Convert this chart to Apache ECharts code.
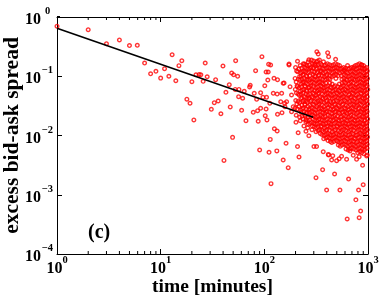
<!DOCTYPE html>
<html><head><meta charset="utf-8">
<script src="https://cdn.jsdelivr.net/npm/echarts@6/dist/echarts.min.js"></script>
<style>html,body{margin:0;padding:0;background:#fff}#c{width:382px;height:300px}</style>
</head><body><div id="c"></div>
<script>
// [time (minutes), excess bid-ask spread]
const sparsePoints = [
[1,0.70],[2.0,0.61],[3.0,0.354],[4.0,0.41],[5.0,0.33],[5.95,0.333],[7.0,0.167],[8.0,0.110],[9.0,0.121],[10,0.093],[10.9,0.134],[12.0,0.10],[12.9,0.231],[14.0,0.084],[15.0,0.151],[16.0,0.183],[17.9,0.041],[19.2,0.035],[20.0,0.081],[20.9,0.0183],[21.9,0.106],[23.5,0.107],[24.4,0.106],
[26.9,0.167],[39.9,0.149],[52.9,0.183],[94.8,0.214],[110,0.159],[115,0.155],[173,0.155],
[28.1,0.098],[25.7,0.082],[33.9,0.0875],[48.4,0.1135],[50.6,0.106],[55.3,0.0998],[82.4,0.124],[104,0.118],[109,0.118],[45.9,0.072],[42.6,0.0536],[52.4,0.060],[56.9,0.060],[64,0.0557],[73.1,0.0703],[72.1,0.0659],[101,0.069],[108,0.0865],[124,0.0923],[134,0.0875],[155,0.0769],
[32.9,0.0358],[35.9,0.0382],[30.8,0.0277],[46.9,0.0303],[56.5,0.0452],[61.8,0.0425],[79.9,0.0516],[92.1,0.0528],[84.3,0.0408],[96.9,0.0441],[105,0.0441],[122,0.0516],[133,0.0501],[144,0.0372],[157,0.0349],[113,0.0349],
[60.4,0.0266],[78.2,0.0246],[86.1,0.0262],[92.1,0.0288],[104,0.028],[38.1,0.0233],[66.5,0.0178],[87.3,0.0174],[102,0.0216],[106,0.0183],[134,0.0228],[148,0.0243],[125,0.013],
[49.4,0.0093],[114,0.0086],[133,0.0119],[162,0.0074],[209,0.0065],[212,0.0111],[252,0.0118],[269,0.0099],[301,0.0065],[319,0.0065],
[40.8,0.0038],[90.1,0.0057],[111,0.0052],[132,0.0055],[116,0.00154],[152,0.00386],[170,0.00286],[216,0.00434],[315,0.00194],[365,0.00265],[399,0.0012],[370,0.00533],[417,0.00469],[446,0.00386],[498,0.00376],[527,0.00406],[556,0.00446],[476,0.00224],[536,0.0012],[630,0.00039],[650,0.00184],[622,0.00396],[720,0.00463],[776,0.00396],[822,0.00439],[887,0.00314],[811,0.0012],[764,0.00082],[849,0.00053],[822,0.00041],[899,0.00148],[970,0.0045],
[202,0.0167],[252,0.0171],[414,0.0048],[457,0.00456],[670,0.0055],[982,0.0047],
[321,0.26],[331,0.238],[408,0.25],[417,0.214],[209,0.179],[243,0.161],[269,0.19],[308,0.163],[487,0.193],[589,0.129],[731,0.145],[867,0.155],[173,0.161],
[152,0.076],[147,0.0515],[177,0.0666],[183,0.0483],[164,0.0372],[158,0.0306],[190,0.0306],[183,0.0252]
];
const densePoints = [
[200,0.141],[205,0.123],[198,0.092],[203,0.080],[207,0.069],[199,0.060],[204,0.052],[201,0.039],[206,0.034],[198,0.029],[203,0.022],
[222,0.152],[216,0.132],[224,0.115],[219,0.099],[221,0.086],[226,0.074],[217,0.064],[223,0.056],[218,0.048],[225,0.042],[220,0.036],[216,0.031],[224,0.027],[219,0.0205],[222,0.0178],
[238,0.163],[245,0.141],[240,0.123],[236,0.106],[243,0.092],[239,0.080],[246,0.069],[241,0.060],[237,0.052],[244,0.045],[240,0.039],[247,0.034],[238,0.029],[242,0.0255],[245,0.022],[236,0.019],[241,0.0145],
[265,0.175],[259,0.152],[268,0.132],[262,0.115],[257,0.099],[266,0.086],[261,0.074],[269,0.064],[258,0.056],[264,0.048],[267,0.042],[260,0.036],[263,0.031],[268,0.027],[259,0.0237],[265,0.0205],[261,0.0178],[266,0.0155],[262,0.0135],
[285,0.188],[291,0.163],[283,0.141],[289,0.123],[294,0.106],[286,0.092],[290,0.080],[282,0.069],[288,0.060],[293,0.052],[287,0.045],[284,0.039],[292,0.034],[289,0.029],[285,0.0255],[290,0.022],[294,0.019],[286,0.0166],[291,0.0145],[288,0.0125],
[318,0.175],[312,0.152],[316,0.132],[321,0.115],[310,0.099],[314,0.086],[319,0.074],[313,0.064],[322,0.056],[315,0.048],[311,0.042],[317,0.036],[320,0.031],[314,0.027],[309,0.0237],[316,0.0205],[321,0.0178],[312,0.0155],[318,0.0135],[315,0.0116],
[340,0.188],[347,0.163],[342,0.141],[349,0.123],[338,0.106],[345,0.092],[341,0.080],[350,0.069],[343,0.060],[337,0.052],[346,0.045],[344,0.039],[339,0.034],[348,0.029],[342,0.0255],[347,0.022],[340,0.019],[345,0.0166],[350,0.0145],[341,0.0125],[346,0.0108],
[372,0.175],[380,0.152],[375,0.132],[369,0.115],[378,0.099],[383,0.086],[371,0.074],[377,0.064],[374,0.056],[381,0.048],[368,0.042],[376,0.036],[379,0.031],[373,0.027],[382,0.0237],[370,0.0205],[377,0.0178],[375,0.0155],[380,0.0135],[372,0.0116],[378,0.0101],[374,0.0088],
[406,0.163],[414,0.141],[409,0.123],[403,0.106],[416,0.092],[411,0.069],[405,0.060],[413,0.052],[408,0.045],[402,0.039],[415,0.034],[410,0.029],[404,0.0255],[412,0.022],[407,0.019],[417,0.0166],[409,0.0145],[403,0.0125],[414,0.0108],[408,0.0094],[411,0.0082],
[445,0.152],[453,0.132],[448,0.115],[450,0.099],[451,0.074],[444,0.064],[456,0.056],[447,0.048],[452,0.042],[443,0.036],[450,0.031],[455,0.027],[446,0.0237],[449,0.0205],[454,0.0178],[442,0.0155],[448,0.0135],[453,0.0116],[445,0.0101],[451,0.0088],[447,0.0076],
[486,0.163],[495,0.141],[489,0.123],[493,0.106],[490,0.092],[484,0.069],[491,0.060],[497,0.052],[487,0.045],[492,0.039],[485,0.034],[496,0.029],[490,0.0255],[483,0.022],[494,0.019],[488,0.0166],[498,0.0145],[486,0.0125],[492,0.0108],[489,0.0094],[495,0.0082],
[531,0.152],[540,0.132],[534,0.115],[529,0.074],[543,0.064],[537,0.056],[532,0.048],[541,0.042],[535,0.036],[528,0.031],[539,0.027],[533,0.0237],[544,0.0205],[530,0.0178],[538,0.0155],[536,0.0135],[542,0.0116],[529,0.0101],[537,0.0088],[533,0.0076],[540,0.0066],
[582,0.141],[591,0.123],[585,0.106],[587,0.092],[589,0.080],[580,0.069],[594,0.060],[587,0.052],[583,0.045],[592,0.039],[578,0.034],[588,0.029],[595,0.0255],[584,0.022],[590,0.019],[581,0.0166],[593,0.0145],[586,0.0125],[579,0.0108],[592,0.0094],[585,0.0082],[589,0.0071],
[635,0.152],[646,0.132],[638,0.115],[643,0.099],[632,0.086],[648,0.074],[641,0.064],[636,0.056],[650,0.048],[639,0.042],[634,0.036],[645,0.031],[642,0.027],[630,0.0237],[647,0.0205],[637,0.0178],[644,0.0155],[633,0.0135],[649,0.0116],[640,0.0101],[636,0.0088],[646,0.0076],[638,0.0066],[643,0.0057],
[694,0.141],[706,0.123],[698,0.106],[703,0.092],[690,0.080],[709,0.069],[697,0.060],[704,0.052],[692,0.045],[701,0.039],[707,0.034],[695,0.029],[700,0.0255],[688,0.022],[705,0.019],[696,0.0166],[702,0.0145],[691,0.0125],[708,0.0108],[699,0.0094],[693,0.0082],[704,0.0071],[697,0.0061],
[758,0.152],[772,0.132],[762,0.115],[768,0.099],[755,0.086],[775,0.074],[760,0.064],[770,0.056],[764,0.048],[757,0.042],[773,0.036],[766,0.031],[759,0.027],[771,0.0237],[763,0.0205],[756,0.0178],[769,0.0155],[761,0.0135],[774,0.0116],[767,0.0101],[758,0.0088],[770,0.0076],[762,0.0066],[766,0.0057],
[828,0.163],[842,0.141],[833,0.123],[839,0.106],[825,0.092],[845,0.080],[831,0.069],[837,0.060],[848,0.052],[829,0.045],[840,0.039],[834,0.034],[826,0.029],[844,0.0255],[836,0.022],[832,0.019],[841,0.0166],[827,0.0145],[846,0.0125],[838,0.0108],[830,0.0094],[843,0.0082],[835,0.0071],[839,0.0061],[832,0.0053],
[905,0.152],[921,0.132],[910,0.115],[917,0.099],[902,0.086],[925,0.074],[908,0.064],[915,0.056],[919,0.048],[904,0.042],[912,0.036],[923,0.031],[907,0.027],[916,0.0237],[911,0.0205],[920,0.0178],[903,0.0155],[914,0.0135],[924,0.0116],[909,0.0101],[918,0.0088],[906,0.0076],[913,0.0066],[922,0.0057],[910,0.0049],
[970,0.141],[985,0.123],[975,0.106],[990,0.092],[968,0.080],[980,0.069],[994,0.060],[972,0.052],[983,0.045],[977,0.039],[988,0.034],[966,0.029],[981,0.0255],[974,0.022],[992,0.019],[978,0.0166],[969,0.0145],[986,0.0125],[976,0.0108],[991,0.0094],[973,0.0082],[982,0.0071],[979,0.0061]
];
const denseCorePoints = [
[210,0.119],[213,0.089],[209,0.0666],[212,0.050],[211,0.0376],[208,0.028],
[229,0.136],[233,0.119],[227,0.102],[231,0.089],[234,0.077],[228,0.0666],[232,0.058],[226,0.050],[230,0.0434],[235,0.0376],[229,0.0328],[233,0.028],[227,0.0246],[231,0.0212],
[250,0.157],[255,0.136],[249,0.119],[253,0.102],[257,0.089],[251,0.077],[248,0.0666],[254,0.058],[252,0.050],[256,0.0434],[250,0.0376],[247,0.0328],[253,0.028],[255,0.0246],[249,0.0212],[252,0.0183],
[273,0.157],[278,0.136],[271,0.119],[276,0.102],[274,0.089],[279,0.077],[272,0.0666],[277,0.058],[275,0.050],[270,0.0434],[278,0.0376],[274,0.0328],[276,0.028],[271,0.0246],[279,0.0212],[273,0.0183],[277,0.016],
[299,0.181],[304,0.157],[297,0.136],[302,0.119],[306,0.102],[300,0.089],[303,0.077],[298,0.0666],[305,0.058],[301,0.050],[296,0.0434],[304,0.0376],[300,0.0328],[303,0.028],[298,0.0246],[302,0.0212],[306,0.0183],[299,0.016],[304,0.014],
[327,0.181],[332,0.157],[325,0.136],[330,0.119],[334,0.102],[328,0.089],[331,0.077],[326,0.0666],[333,0.058],[329,0.050],[324,0.0434],[332,0.0376],[328,0.0328],[335,0.028],[327,0.0246],[330,0.0212],[333,0.0183],[326,0.016],[331,0.014],[329,0.0121],
[357,0.157],[362,0.136],[355,0.119],[360,0.102],[364,0.089],[358,0.077],[361,0.0666],[356,0.058],[363,0.050],[359,0.0434],[354,0.0376],[362,0.0328],[358,0.028],[365,0.0246],[357,0.0212],[360,0.0183],[363,0.016],[356,0.014],[361,0.0121],[359,0.0104],
[390,0.157],[396,0.136],[389,0.119],[394,0.102],[398,0.089],[392,0.077],[395,0.0666],[388,0.058],[397,0.050],[391,0.0434],[393,0.0376],[399,0.0328],[390,0.028],[395,0.0246],[387,0.0212],[394,0.0183],[392,0.016],[397,0.014],[389,0.0121],[396,0.0104],[393,0.0091],
[426,0.157],[432,0.136],[425,0.119],[430,0.102],[429,0.089],[428,0.077],[434,0.0666],[427,0.058],[431,0.050],[424,0.0434],[433,0.0376],[429,0.0328],[435,0.028],[426,0.0246],[430,0.0212],[432,0.0183],[427,0.016],[434,0.014],[425,0.0121],[431,0.0104],[428,0.0091],[433,0.0079],
[466,0.157],[472,0.136],[465,0.119],[470,0.102],[468,0.0666],[474,0.058],[467,0.050],[471,0.0434],[464,0.0376],[473,0.0328],[469,0.028],[475,0.0246],[466,0.0212],[470,0.0183],[472,0.016],[467,0.014],[474,0.0121],[465,0.0104],[471,0.0091],[468,0.0079],
[510,0.157],[516,0.136],[509,0.119],[514,0.102],[512,0.0666],[518,0.058],[511,0.050],[515,0.0434],[508,0.0376],[517,0.0328],[513,0.028],[519,0.0246],[510,0.0212],[514,0.0183],[516,0.016],[511,0.014],[518,0.0121],[509,0.0104],[515,0.0091],[512,0.0079],[517,0.0069],
[558,0.136],[565,0.119],[556,0.102],[560,0.089],[563,0.077],[559,0.0666],[566,0.058],[557,0.050],[562,0.0434],[555,0.0376],[564,0.0328],[560,0.028],[567,0.0246],[558,0.0212],[561,0.0183],[565,0.016],[557,0.014],[563,0.0121],[559,0.0104],[566,0.0091],[556,0.0079],[562,0.0069],
[609,0.136],[617,0.119],[611,0.102],[615,0.089],[607,0.077],[619,0.0666],[612,0.058],[608,0.050],[616,0.0434],[610,0.0376],[618,0.0328],[606,0.028],[614,0.0246],[611,0.0212],[617,0.0183],[609,0.016],[615,0.014],[612,0.0121],[607,0.0104],[616,0.0091],[610,0.0079],[614,0.0069],[613,0.0059],
[666,0.136],[675,0.119],[668,0.102],[672,0.089],[664,0.077],[677,0.0666],[669,0.058],[665,0.050],[674,0.0434],[667,0.0376],[676,0.0328],[663,0.028],[671,0.0246],[668,0.0212],[675,0.0183],[666,0.016],[673,0.014],[669,0.0121],[664,0.0104],[674,0.0091],[667,0.0079],[672,0.0069],[670,0.0059],
[726,0.136],[736,0.119],[729,0.102],[733,0.089],[724,0.077],[738,0.0666],[730,0.058],[725,0.050],[735,0.0434],[728,0.0376],[737,0.0328],[723,0.028],[732,0.0246],[729,0.0212],[736,0.0183],[726,0.016],[734,0.014],[730,0.0121],[724,0.0104],[735,0.0091],[727,0.0079],[733,0.0069],[731,0.0059],
[794,0.157],[806,0.136],[797,0.119],[803,0.102],[791,0.089],[808,0.077],[796,0.0666],[801,0.058],[793,0.050],[805,0.0434],[798,0.0376],[790,0.0328],[804,0.028],[799,0.0246],[807,0.0212],[795,0.0183],[802,0.016],[792,0.014],[806,0.0121],[797,0.0104],[803,0.0091],[794,0.0079],[800,0.0069],[805,0.0059],[796,0.0051],
[868,0.157],[882,0.136],[872,0.119],[878,0.102],[865,0.089],[884,0.077],[870,0.0666],[876,0.058],[867,0.050],[881,0.0434],[873,0.0376],[864,0.0328],[879,0.028],[874,0.0246],[883,0.0212],[869,0.0183],[877,0.016],[866,0.014],[880,0.0121],[871,0.0104],[878,0.0091],[868,0.0079],[875,0.0069],[882,0.0059],[870,0.0051],
[940,0.136],[952,0.119],[944,0.102],[950,0.089],[938,0.077],[955,0.0666],[942,0.058],[948,0.050],[937,0.0434],[953,0.0376],[945,0.0328],[939,0.028],[951,0.0246],[946,0.0212],[941,0.0183],[954,0.016],[943,0.014],[949,0.0121],[938,0.0104],[952,0.0091],[944,0.0079],[947,0.0069],[940,0.0059]
];
const fitLine = [[1,0.645],[296,0.0203]];
const xMin = 1, xMax = 1000, yMin = 0.0001, yMax = 1;
const minorX = [2,3,4,5,6,7,8,9,20,30,40,50,60,70,80,90,200,300,400,500,600,700,800,900];
const minorY = [0.0002,0.0003,0.0004,0.0005,0.0006,0.0007,0.0008,0.0009,0.002,0.003,0.004,0.005,0.006,0.007,0.008,0.009,0.02,0.03,0.04,0.05,0.06,0.07,0.08,0.09,0.2,0.3,0.4,0.5,0.6,0.7,0.8,0.9];
const xTitle = 'time [minutes]';
const yTitle = 'excess bid-ask spread';
const panelLabel = '(c)';

const FONT = "'Liberation Serif', 'Times New Roman', serif";
function expLabel(v){
  const e = Math.round(Math.log10(v));
  return '{b|10}{e|' + (e < 0 ? '\u2212' + (-e) : String(e)) + '}';
}
const xRich = {
  b: {fontFamily: FONT, fontWeight: 'bold', fontSize: 16, color: '#000', lineHeight: 22, verticalAlign: 'bottom'},
  e: {fontFamily: FONT, fontWeight: 'bold', fontSize: 10.5, color: '#000', lineHeight: 12, verticalAlign: 'top'}
};
const yRich = {
  b: {fontFamily: FONT, fontWeight: 'bold', fontSize: 16, color: '#000', lineHeight: 22, verticalAlign: 'bottom'},
  e: {fontFamily: FONT, fontWeight: 'bold', fontSize: 10.5, color: '#000', lineHeight: 12, verticalAlign: 'top', width: 13, align: 'left'}
};
const axisBase = {
  type: 'log', logBase: 10,
  axisLine: {show: true, lineStyle: {color: '#000', width: 1}},
  axisTick: {show: true, inside: true, length: 5, lineStyle: {color: '#000', width: 1}},
  splitLine: {show: false}, minorTick: {show: false}
};
const markerStyle = {color: 'rgba(255,255,255,0)', borderColor: '#ff0000', borderWidth: 1.4};
const chart = echarts.init(document.getElementById('c'), null, {renderer: 'canvas'});
function tickRender(dir){
  return function(params, api){
    const v = api.value(0);
    const len = 3;
    if (dir === 'x') {
      const b = api.coord([v, yMin]); const t = api.coord([v, yMax]);
      return {type: 'group', children: [
        {type: 'line', shape: {x1: b[0], y1: b[1], x2: b[0], y2: b[1] - len}, style: {stroke: '#000', lineWidth: 1}},
        {type: 'line', shape: {x1: t[0], y1: t[1], x2: t[0], y2: t[1] + len}, style: {stroke: '#000', lineWidth: 1}}
      ]};
    } else {
      const l = api.coord([xMin, v]); const r = api.coord([xMax, v]);
      return {type: 'group', children: [
        {type: 'line', shape: {x1: l[0], y1: l[1], x2: l[0] + len, y2: l[1]}, style: {stroke: '#000', lineWidth: 1}},
        {type: 'line', shape: {x1: r[0], y1: r[1], x2: r[0] - len, y2: r[1]}, style: {stroke: '#000', lineWidth: 1}}
      ]};
    }
  };
}
chart.setOption({
  animation: false,
  backgroundColor: '#fff',
  grid: {left: 57, right: 14, top: 17, bottom: 46, containLabel: false, outerBoundsMode: 'none'},
  xAxis: [
    Object.assign({}, axisBase, {position: 'bottom', min: xMin, max: xMax,
      name: xTitle, nameLocation: 'middle', nameGap: 23, nameMoveOverlap: false,
      nameTextStyle: {fontFamily: FONT, fontWeight: 'bold', fontSize: 19.5, color: '#000'},
      axisLabel: {show: true, margin: 1, formatter: expLabel, rich: xRich}}),
    Object.assign({}, axisBase, {position: 'top', min: xMin, max: xMax, axisLabel: {show: false}})
  ],
  yAxis: [
    Object.assign({}, axisBase, {position: 'left', min: yMin, max: yMax,
      name: yTitle, nameLocation: 'middle', nameGap: 34, nameMoveOverlap: false,
      nameTextStyle: {fontFamily: FONT, fontWeight: 'bold', fontSize: 21.5, color: '#000'},
      axisLabel: {show: true, margin: 3, formatter: expLabel, rich: yRich}}),
    Object.assign({}, axisBase, {position: 'right', min: yMin, max: yMax, axisLabel: {show: false}})
  ],
  graphic: [{type: 'text', left: 88, top: 223, style: {text: panelLabel, font: "bold 20px " + FONT, fill: '#000'}}],
  series: [
    {type: 'scatter', name: 'sparse', data: sparsePoints, symbol: 'circle', symbolSize: 3.6, itemStyle: markerStyle, emphasis: {disabled: true}, z: 2},
    {type: 'scatter', name: 'dense', data: densePoints, symbol: 'circle', symbolSize: 3.6, itemStyle: markerStyle, emphasis: {disabled: true}, z: 2},
    {type: 'scatter', name: 'denseCore', data: denseCorePoints, symbol: 'circle', symbolSize: 3.6, itemStyle: markerStyle, emphasis: {disabled: true}, z: 2},
    {type: 'line', name: 'fit', data: fitLine, symbol: 'none', lineStyle: {color: '#000', width: 1.6}, z: 5, silent: true},
    {type: 'custom', name: 'xminor', data: minorX.map(v => [v, yMin]), renderItem: tickRender('x'), clip: false, silent: true, z: 6},
    {type: 'custom', name: 'yminor', data: minorY.map(v => [xMin, v]), renderItem: tickRender('y'), clip: false, silent: true, z: 6}
  ]
});
</script></body></html>
